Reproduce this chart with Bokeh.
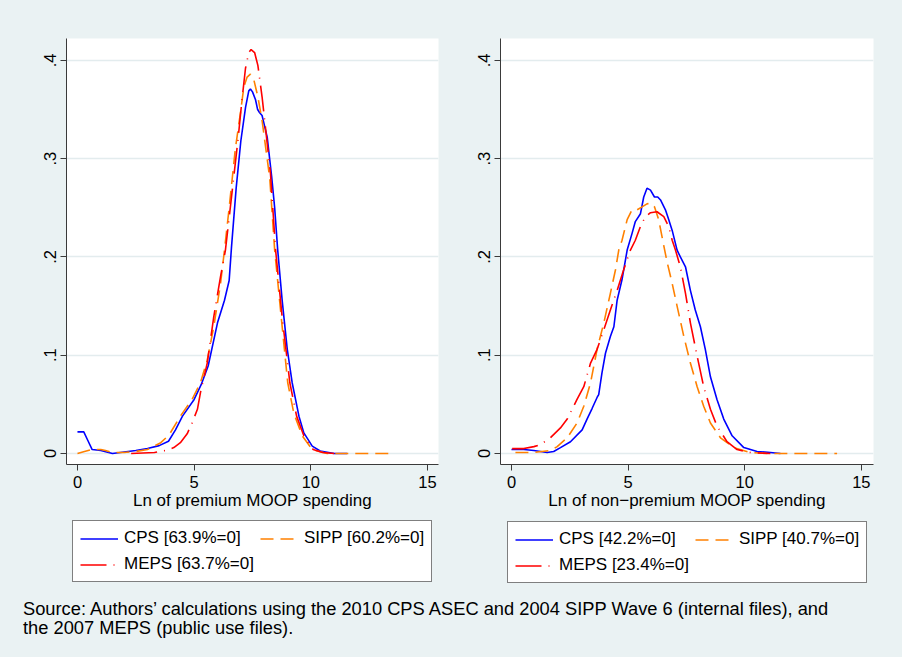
from bokeh.plotting import figure
from bokeh.models import FixedTicker, Legend, LegendItem, Div, Range1d, CustomJSTickFormatter
from bokeh.layouts import row, column
from bokeh.embed import file_html
from bokeh.resources import INLINE

# ---------------- data ----------------
y_ticks = [0, 0.1, 0.2, 0.3, 0.4]
y_tick_labels = ["0", ".1", ".2", ".3", ".4"]
x_ticks = [0, 5, 10, 15]

series_names = ["CPS", "SIPP", "MEPS"]
prem_labels = ["CPS [63.9%=0]", "SIPP [60.2%=0]", "MEPS [63.7%=0]"]
nonprem_labels = ["CPS [42.2%=0]", "SIPP [40.7%=0]", "MEPS [23.4%=0]"]

# Left panel: Ln of premium MOOP spending
cps_prem_x = [0.0, 0.27, 0.45, 0.63, 1.0, 1.5, 2.0, 2.5, 3.0, 3.5, 3.9, 4.2, 4.5, 5.0, 5.3,
              5.6, 6.0, 6.3, 6.5, 6.6, 6.8, 7.0, 7.2, 7.34, 7.41, 7.5, 7.63, 7.72, 7.8, 7.91,
              8.13, 8.32, 8.45, 8.58, 8.77, 8.99, 9.2, 9.49, 9.7, 10.06, 10.4, 11.0, 11.56]
cps_prem_y = [0.022, 0.022, 0.013, 0.004, 0.003, 0.0, 0.0015, 0.003, 0.005, 0.008, 0.0125, 0.024,
              0.038, 0.055, 0.070, 0.089, 0.133, 0.156, 0.176, 0.21, 0.27, 0.318, 0.352, 0.369,
              0.371, 0.368, 0.360, 0.350, 0.347, 0.344, 0.322, 0.282, 0.25, 0.207, 0.156, 0.106,
              0.072, 0.038, 0.021, 0.0075, 0.0025, 0.0, 0.0]

sipp_prem_x = [0.0, 0.3, 0.6, 1.0, 1.2, 1.5, 2.0, 2.5, 3.0, 3.57, 3.93, 4.41, 4.91, 5.27, 5.56,
               5.84, 6.13, 6.3, 6.5, 6.76, 6.99, 7.13, 7.27, 7.41, 7.56, 7.73, 7.91, 8.1, 8.24,
               8.45, 8.73, 9.01, 9.27, 9.63, 10.06, 10.7, 11.5, 12.5, 13.34]
sipp_prem_y = [0.0, 0.002, 0.004, 0.004, 0.003, 0.001, 0.001, 0.002, 0.004, 0.011, 0.019, 0.038,
               0.055, 0.072, 0.095, 0.129, 0.173, 0.207, 0.25, 0.309, 0.348, 0.373, 0.383, 0.386,
               0.38, 0.363, 0.339, 0.305, 0.28, 0.207, 0.139, 0.072, 0.041, 0.018, 0.004, 0.0,
               0.0, 0.0, 0.0]

meps_prem_x = [2.3, 2.8, 3.3, 3.77, 4.13, 4.41, 4.7, 4.91, 5.14, 5.27, 5.56, 5.84, 6.13, 6.34,
               6.5, 6.7, 6.89, 7.05, 7.2, 7.34, 7.44, 7.59, 7.73, 7.91, 8.1, 8.27, 8.49, 8.77,
               9.1, 9.39, 9.7, 10.1, 10.5, 11.0]
meps_prem_y = [0.0, 0.0005, 0.001, 0.003, 0.006, 0.011, 0.02, 0.031, 0.045, 0.062, 0.092, 0.139,
               0.18, 0.207, 0.24, 0.282, 0.322, 0.36, 0.392, 0.408, 0.411, 0.408, 0.395, 0.363,
               0.322, 0.285, 0.207, 0.139, 0.072, 0.038, 0.018, 0.004, 0.001, 0.0]

# Right panel: Ln of non-premium MOOP spending
cps_np_x = [0.0, 0.53, 0.96, 1.53, 1.81, 2.1, 2.53, 3.03, 3.24, 3.46, 3.67, 3.74, 3.88, 4.03,
            4.24, 4.39, 4.53, 4.74, 4.96, 5.17, 5.31, 5.53, 5.67, 5.81, 5.96, 6.13, 6.27, 6.39,
            6.6, 6.74, 6.89, 7.1, 7.24, 7.46, 7.67, 7.88, 8.1, 8.31, 8.53, 8.81, 9.1, 9.46,
            9.96, 10.53, 11.1, 11.53]
cps_np_y = [0.004, 0.004, 0.003, 0.001, 0.002, 0.006, 0.012, 0.024, 0.035, 0.046, 0.057, 0.060,
            0.082, 0.102, 0.119, 0.129, 0.156, 0.177, 0.207, 0.224, 0.236, 0.244, 0.261, 0.270,
            0.268, 0.261, 0.261, 0.258, 0.248, 0.238, 0.227, 0.207, 0.200, 0.190, 0.166, 0.146,
            0.129, 0.106, 0.078, 0.055, 0.035, 0.018, 0.006, 0.002, 0.001, 0.0]

sipp_np_x = [0.17, 0.96, 1.67, 1.96, 2.39, 2.81, 3.1, 3.39, 3.67, 3.96, 4.24, 4.46, 4.6, 4.74,
             4.96, 5.17, 5.39, 5.6, 5.81, 5.96, 6.13, 6.31, 6.5, 6.67, 6.89, 7.1, 7.39, 7.67,
             7.96, 8.24, 8.53, 8.96, 9.53, 10.24, 11.0, 12.0, 13.0, 13.96]
sipp_np_y = [0.001, 0.001, 0.003, 0.007, 0.016, 0.031, 0.048, 0.072, 0.106, 0.133, 0.163, 0.187,
             0.207, 0.217, 0.238, 0.248, 0.248, 0.251, 0.254, 0.255, 0.251, 0.238, 0.215, 0.195,
             0.173, 0.150, 0.119, 0.092, 0.068, 0.048, 0.031, 0.016, 0.006, 0.001, 0.0, 0.0,
             0.0, 0.0]

meps_np_x = [0.03, 0.53, 0.96, 1.24, 1.67, 2.1, 2.39, 2.81, 3.1, 3.39, 3.67, 3.96, 4.24, 4.53,
             4.81, 5.1, 5.31, 5.53, 5.74, 5.96, 6.24, 6.53, 6.74, 6.89, 7.03, 7.24, 7.46, 7.67,
             7.96, 8.24, 8.53, 8.81, 9.24, 9.67, 10.24, 11.1]
meps_np_y = [0.005, 0.005, 0.007, 0.009, 0.016, 0.026, 0.035, 0.055, 0.068, 0.092, 0.106, 0.126,
             0.146, 0.166, 0.187, 0.207, 0.217, 0.231, 0.241, 0.245, 0.246, 0.241, 0.231, 0.217,
             0.207, 0.190, 0.163, 0.133, 0.099, 0.068, 0.045, 0.028, 0.012, 0.004, 0.001, 0.0]

source_text = ("Source: Authors\u2019 calculations using the 2010 CPS ASEC and 2004 SIPP Wave 6 "
               "(internal files), and<br>the 2007 MEPS (public use files).")

# ---------------- styling ----------------
BG = "#EAF2F3"
GRID = "#E3ECEE"
FONT = "Liberation Sans"
COLORS = {"CPS": "#0000FF", "SIPP": "#FF8000", "MEPS": "#FF0000"}
DASHES = {"CPS": "solid", "SIPP": "13 7", "MEPS": "26 7 1 7"}
LINE_W = 1.6

y_formatter = CustomJSTickFormatter(args=dict(tvals=y_ticks, tlabels=y_tick_labels), code="""
    for (let i = 0; i < tvals.length; i++) {
        if (Math.abs(tvals[i] - tick) < 1e-9) { return tlabels[i]; }
    }
    return String(tick);
""")


def make_panel(width, bl, br, xr, xlabel, data):
    p = figure(width=width, height=512, x_range=Range1d(*xr), y_range=Range1d(-0.0112, 0.4223),
               output_backend="svg", toolbar_location=None,
               min_border_left=bl, min_border_right=br, min_border_top=38, min_border_bottom=47)
    p.background_fill_color = "white"
    p.border_fill_color = BG
    p.outline_line_color = None

    p.xgrid.visible = False
    p.ygrid.grid_line_color = GRID
    p.ygrid.grid_line_width = 1.5
    p.ygrid.ticker = FixedTicker(ticks=y_ticks)

    for ax in (p.xaxis[0], p.yaxis[0]):
        ax.axis_line_color = "#3a3a3a"
        ax.axis_line_width = 1
        ax.major_tick_line_color = "#3a3a3a"
        ax.major_tick_in = 0
        ax.major_tick_out = 6
        ax.minor_tick_line_color = None
        ax.major_label_text_font = FONT
        ax.major_label_text_font_size = "16.5px"
        ax.major_label_text_color = "black"

    p.xaxis.ticker = FixedTicker(ticks=x_ticks)
    p.xaxis.major_label_standoff = 5
    p.xaxis.axis_label = xlabel
    p.xaxis.axis_label_text_font = FONT
    p.xaxis.axis_label_text_font_size = "17px"
    p.xaxis.axis_label_text_font_style = "normal"
    p.xaxis.axis_label_text_color = "black"
    p.xaxis.axis_label_standoff = 0

    p.yaxis.ticker = FixedTicker(ticks=y_ticks)
    p.yaxis.formatter = y_formatter
    p.yaxis.major_label_orientation = "vertical"
    p.yaxis.major_label_standoff = 4

    for name in series_names:
        xs, ys = data[name]
        p.line(xs, ys, line_color=COLORS[name], line_width=LINE_W, line_dash=DASHES[name])
    return p


def make_legend(width, bl, br, bt, margin, labels, data):
    # legend-only strip: the series are attached but the view range lies outside the data,
    # so only the legend (with its line samples) is visible
    q = figure(width=width, height=78, x_range=Range1d(100, 101), y_range=Range1d(100, 101),
               output_backend="svg", toolbar_location=None, x_axis_type=None, y_axis_type=None,
               min_border_left=bl, min_border_right=br, min_border_top=bt, min_border_bottom=0)
    q.background_fill_color = BG
    q.border_fill_color = BG
    q.outline_line_color = None
    q.xgrid.visible = False
    q.ygrid.visible = False
    rends = {}
    for name in series_names:
        xs, ys = data[name]
        rends[name] = q.line(xs, ys, line_color=COLORS[name], line_width=LINE_W,
                             line_dash=DASHES[name])
    items = [LegendItem(label=lab, renderers=[rends[n]]) for n, lab in zip(series_names, labels)]
    leg = Legend(items=items, orientation="horizontal", ncols=2, location="top_left")
    leg.label_text_font = FONT
    leg.label_text_font_size = "17px"
    leg.label_text_color = "black"
    leg.glyph_width = 38
    leg.glyph_height = 19
    leg.label_height = 19
    leg.label_standoff = 6
    leg.spacing = 6
    leg.padding = 7
    leg.margin = margin
    leg.border_line_color = "black"
    leg.border_line_width = 1
    leg.background_fill_color = "white"
    leg.background_fill_alpha = 1
    q.add_layout(leg, "center")
    return q


prem_data = {"CPS": (cps_prem_x, cps_prem_y), "SIPP": (sipp_prem_x, sipp_prem_y),
             "MEPS": (meps_prem_x, meps_prem_y)}
np_data = {"CPS": (cps_np_x, cps_np_y), "SIPP": (sipp_np_x, sipp_np_y),
           "MEPS": (meps_np_x, meps_np_y)}

p1 = make_panel(469, 66, 31, (-0.47, 15.47), "Ln of premium MOOP spending", prem_data)
p2 = make_panel(433, 31, 29, (-0.47, 15.52), "Ln of non\u2212premium MOOP spending", np_data)
l1 = make_legend(469, 66, 31, 2, 6, prem_labels, prem_data)
l2 = make_legend(433, 31, 29, 1, 7, nonprem_labels, np_data)

src = Div(text=('<div style="padding:9px 0 0 23px; font-family:\'Liberation Sans\'; '
                'font-size:18.3px; line-height:19px; color:black; white-space:nowrap;">'
                + source_text + '</div>'),
          width=902, height=67,
          styles={"background-color": BG, "margin": "0", "padding": "0"})

layout = column(row(p1, p2, spacing=0, styles={"background-color": BG}),
                row(l1, l2, spacing=0, styles={"background-color": BG}),
                src, spacing=0, styles={"background-color": BG})

open("out.html", "w").write(file_html(layout, INLINE))
